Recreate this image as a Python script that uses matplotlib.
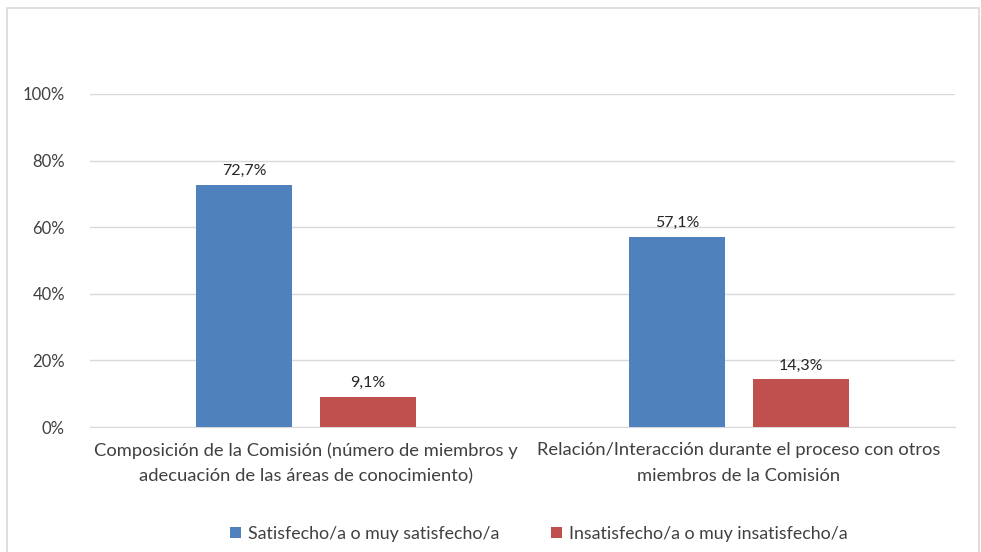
import matplotlib.pyplot as plt
from matplotlib.patches import Rectangle
from matplotlib.ticker import PercentFormatter
import numpy as np

plt.rcParams['font.family'] = ['Lato', 'DejaVu Sans']

categorias = ["Composición de la Comisión (número de miembros y\nadecuación de las áreas de conocimiento)",
              "Relación/Interacción durante el proceso con otros\nmiembros de la Comisión"]
satisfecho = [72.7, 57.1]
insatisfecho = [9.1, 14.3]
series = ["Satisfecho/a o muy satisfecho/a", "Insatisfecho/a o muy insatisfecho/a"]
colores = ["#4F81BD", "#C0504D"]

fig = plt.figure(figsize=(9.81, 5.52), dpi=100)
ax = fig.add_axes([90 / 981, 1 - 427 / 552, (955 - 90) / 981, (427 - 94) / 552])

# marco gris alrededor del gráfico
fig.patches.append(Rectangle((7 / 981, -0.05), (979 - 7) / 981, 1 - 8 / 552 + 0.05,
                             transform=fig.transFigure, fill=False,
                             edgecolor="#D9D9D9", linewidth=1.2))

x = np.arange(len(categorias))
ancho = 0.222
sep = 0.143
b1 = ax.bar(x - sep, satisfecho, ancho, color=colores[0], label=series[0], zorder=3)
b2 = ax.bar(x + sep, insatisfecho, ancho, color=colores[1], label=series[1], zorder=3)

for barras in (b1, b2):
    for b in barras:
        v = b.get_height()
        ax.annotate(f"{v:.1f}%".replace(".", ","), (b.get_x() + b.get_width() / 2, v),
                    xytext=(0, 5), textcoords="offset points", ha="center", va="bottom",
                    fontsize=11.5, color="#262626")

ax.set_xlim(-0.5, 1.5)
ax.set_ylim(0, 100)
ax.set_yticks(range(0, 101, 20))
ax.yaxis.set_major_formatter(PercentFormatter(decimals=0))
ax.set_xticks(x)
ax.set_xticklabels(categorias, fontsize=13.2, color="#404040", linespacing=1.75)
ax.tick_params(axis="x", length=0, pad=11)
ax.tick_params(axis="y", length=0, pad=18, labelsize=12, labelcolor="#404040")
ax.grid(axis="y", color="#D9D9D9", linewidth=1, zorder=0)
for s in ["top", "right", "left"]:
    ax.spines[s].set_visible(False)
ax.spines["bottom"].set_color("#D9D9D9")

fig.legend(loc="center", bbox_to_anchor=(539 / 981, 1 - 534 / 552), ncol=2, frameon=False,
           fontsize=12.8, handlelength=0.6, handleheight=0.6, columnspacing=2.9,
           handletextpad=0.4, labelcolor="#404040")

fig.savefig("out.png", dpi=100)
